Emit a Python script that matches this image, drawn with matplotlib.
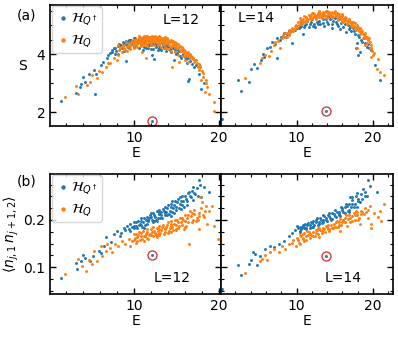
import numpy as np
import matplotlib
matplotlib.use("Agg")
import matplotlib.pyplot as plt
from matplotlib.ticker import MultipleLocator

# entanglement entropy S vs E, L=12
s12_qdag = [(1.5, 2.37), (3.26, 2.67), (3.65, 2.87), (3.85, 2.98), (4.1, 3.22), (4.3, 3.05), (5.5, 2.63),
            (4.8, 3.33), (5.3, 3.45), (5.6, 3.3), (6.1, 3.62), (6.4, 3.73), (6.9, 3.85), (7.0, 3.97),
            (7.5, 4.08), (7.85, 4.2), (7.85, 3.99), (8.4, 4.31), (8.2, 4.0), (9.0, 4.37), (9.1, 3.76),
            (9.6, 4.48), (9.97, 4.54), (8.6, 4.22), (8.8, 4.12), (9.2, 4.3), (9.4, 4.2), (9.5, 4.4),
            (9.8, 4.35), (10.0, 4.25), (10.2, 4.45), (10.3, 4.32), (10.5, 4.5), (10.6, 4.2), (10.8, 4.4),
            (10.9, 4.3), (11.0, 4.55), (11.1, 4.15), (11.2, 4.25), (11.3, 4.45), (11.5, 4.35), (11.6, 4.5),
            (11.7, 4.22), (11.9, 4.4), (12.0, 4.3), (12.1, 3.97), (12.2, 4.48), (12.3, 4.18), (12.4, 3.83),
            (12.5, 4.35), (12.6, 4.25), (12.8, 4.42), (12.9, 4.2), (13.0, 4.3), (13.15, 4.14), (13.3, 4.38),
            (13.5, 4.2), (13.6, 4.3), (13.8, 4.1), (14.0, 4.25), (14.3, 4.08), (14.4, 4.2), (14.7, 3.79),
            (14.8, 4.15), (15.0, 4.0), (15.1, 4.03), (15.3, 4.1), (15.5, 3.85), (15.7, 3.95), (16.0, 3.9),
            (16.2, 3.7), (16.4, 3.07), (16.5, 3.14), (16.6, 3.75), (17.0, 3.55), (17.3, 3.62), (17.65, 3.33),
            (17.9, 2.78), (18.2, 3.0), (12.1, 1.69)]
s12_qdag_band = [(7.2, 4.05), (7.4, 4.15), (7.7, 4.22), (7.9, 4.1), (8.1, 4.28), (8.3, 4.35), (8.5, 4.3),
                 (8.7, 4.4), (8.9, 4.35), (9.1, 4.45), (9.3, 4.42), (9.45, 4.5), (9.7, 4.5), (9.85, 4.45),
                 (10.1, 4.55), (10.4, 4.4), (10.7, 4.48), (11.2, 4.38), (11.4, 4.2), (11.8, 4.3), (12.0, 4.18),
                 (12.3, 4.35), (12.7, 4.3), (12.8, 4.15), (13.1, 4.22), (13.4, 4.28), (13.7, 4.22), (13.9, 4.3),
                 (14.2, 4.15), (14.6, 4.2), (14.9, 4.05), (15.2, 4.15), (15.4, 3.95), (15.8, 4.0), (16.1, 3.82),
                 (16.4, 3.85), (16.8, 3.65)]
s12_q = [(1.9, 2.52), (3.26, 2.9), (3.5, 2.64), (4.5, 2.93), (4.9, 3.04), (5.1, 3.28), (5.7, 3.16),
         (5.9, 3.4), (6.3, 3.39), (6.7, 3.56), (7.0, 3.7), (7.25, 3.68), (7.65, 3.85), (8.0, 3.8),
         (8.2, 3.97), (8.6, 4.08), (9.2, 4.25), (8.4, 4.2), (8.8, 4.3), (9.0, 4.15), (9.4, 4.38),
         (9.6, 4.28), (9.8, 4.45), (10.0, 4.38), (10.2, 4.52), (10.3, 4.3), (10.5, 4.45), (10.7, 4.58),
         (10.8, 4.35), (11.0, 4.5), (11.0, 4.08), (11.2, 4.63), (11.3, 4.42), (11.4, 3.87), (11.5, 4.55),
         (11.6, 4.35), (11.8, 4.6), (11.9, 4.48), (12.0, 4.4), (12.2, 4.58), (12.3, 4.5), (12.5, 4.62),
         (12.6, 4.4), (12.8, 4.6), (12.9, 4.5), (13.0, 4.35), (13.2, 4.55), (13.4, 4.45), (13.5, 4.3),
         (13.7, 4.52), (13.9, 4.48), (14.0, 4.35), (14.2, 4.45), (14.3, 4.25), (14.5, 4.4), (14.5, 3.56),
         (14.7, 4.3), (14.9, 4.38), (15.0, 4.2), (15.1, 4.31), (15.3, 3.73), (15.3, 4.25), (15.5, 4.1),
         (15.7, 4.2), (15.9, 4.14), (16.0, 3.95), (16.2, 4.05), (16.5, 3.97), (16.6, 3.85), (16.8, 3.9),
         (17.1, 3.73), (17.3, 3.8), (17.5, 3.56), (17.65, 3.45), (17.8, 3.6), (17.85, 3.1), (18.05, 3.22),
         (18.3, 2.68), (18.6, 2.87), (18.8, 2.61), (19.4, 2.36), (19.4, 2.05)]
s12_q_band = [(8.1, 4.3), (8.3, 4.15), (8.5, 4.25), (8.7, 4.33), (8.9, 4.22), (9.1, 4.4), (9.3, 4.28),
              (9.5, 4.35), (9.7, 4.42), (9.9, 4.32), (10.1, 4.48), (10.15, 4.4), (10.35, 4.5), (10.45, 4.38),
              (10.6, 4.55), (10.65, 4.45), (10.85, 4.52), (10.9, 4.42), (11.05, 4.6), (11.1, 4.4), (11.25, 4.52),
              (11.35, 4.58), (11.45, 4.46), (11.55, 4.62), (11.65, 4.5), (11.75, 4.4), (11.85, 4.55), (11.95, 4.6),
              (12.05, 4.5), (12.1, 4.42), (12.25, 4.55), (12.35, 4.6), (12.4, 4.45), (12.55, 4.52), (12.65, 4.58),
              (12.7, 4.45), (12.85, 4.53), (12.95, 4.42), (13.05, 4.58), (13.1, 4.48), (13.25, 4.4), (13.3, 4.52),
              (13.45, 4.55), (13.55, 4.42), (13.65, 4.48), (13.75, 4.38), (13.85, 4.55), (13.95, 4.4),
              (14.05, 4.48), (14.15, 4.32), (14.25, 4.42), (14.35, 4.5), (14.45, 4.33), (14.6, 4.45),
              (14.65, 4.35), (14.8, 4.4), (14.85, 4.25), (15.0, 4.33), (15.15, 4.22), (15.2, 4.35), (15.4, 4.28),
              (15.45, 4.15), (15.6, 4.25), (15.65, 4.1), (15.8, 4.18), (15.85, 4.05), (16.05, 4.12), (16.1, 3.98),
              (16.3, 4.08), (16.35, 3.92), (16.55, 4.02), (16.7, 3.95), (16.9, 3.82), (16.95, 3.88), (17.2, 3.78),
              (17.4, 3.7), (17.6, 3.65), (17.7, 3.55), (17.95, 3.4), (18.1, 3.35), (18.4, 3.1), (18.5, 3.0),
              (9.2, 4.12), (9.6, 4.18), (10.0, 4.22), (10.4, 4.25), (10.8, 4.28), (11.2, 4.3), (11.6, 4.28),
              (12.0, 4.32), (12.4, 4.3), (12.8, 4.32), (13.2, 4.25), (13.6, 4.22), (14.0, 4.18), (14.4, 4.12),
              (14.8, 4.08), (15.2, 3.98), (15.6, 3.92), (16.0, 3.8), (16.4, 3.72), (10.6, 4.61), (11.4, 4.63),
              (12.1, 4.63), (12.9, 4.62), (13.6, 4.58)]

# S vs E, L=14
s14_qdag = [(0.2, 1.76), (2.28, 3.1), (2.72, 2.72), (3.73, 3.05), (4.08, 3.47), (4.39, 3.66), (4.82, 3.53),
            (5.3, 3.8), (5.6, 4.02), (5.8, 3.9), (6.14, 4.2), (6.57, 4.25), (6.8, 4.42), (7.2, 4.35),
            (7.46, 4.54), (7.46, 3.87), (7.8, 4.5), (8.33, 4.71), (8.6, 4.6), (9.0, 4.78), (9.43, 4.37),
            (9.6, 4.85), (10.1, 4.89), (10.4, 4.95), (10.75, 5.11), (10.8, 4.69), (11.1, 5.0), (11.4, 5.15),
            (11.7, 5.05), (12.0, 5.2), (12.2, 4.98), (12.4, 4.94), (12.6, 5.25), (12.8, 5.02), (13.0, 5.15),
            (13.3, 5.3), (13.5, 5.08), (13.8, 5.2), (14.1, 5.02), (14.3, 5.3), (14.6, 4.89), (14.8, 5.15),
            (15.0, 5.25), (15.3, 5.05), (15.5, 5.2), (15.7, 4.86), (16.0, 5.1), (16.2, 5.2), (16.5, 4.77),
            (16.7, 5.0), (17.0, 4.95), (17.2, 5.1), (17.5, 4.8), (17.8, 4.2), (17.85, 4.37), (18.0, 4.65),
            (18.1, 3.97), (18.3, 4.08), (18.5, 4.5), (18.8, 4.55), (19.2, 4.25), (19.4, 4.35), (19.7, 4.15),
            (20.3, 3.62), (20.9, 3.1), (13.8, 2.03)]
s14_qdag_band = [(8.0, 4.6), (8.8, 4.7), (9.3, 4.8), (9.8, 4.82), (10.3, 4.9), (10.6, 4.98), (11.0, 4.95),
                 (11.3, 5.05), (11.6, 4.92), (11.9, 5.1), (12.3, 5.05), (12.7, 5.12), (13.1, 5.05), (13.4, 5.2),
                 (13.6, 4.98), (14.0, 5.12), (14.4, 5.2), (14.7, 5.05), (15.1, 5.12), (15.4, 4.98), (15.8, 5.08),
                 (16.1, 4.95), (16.4, 5.05), (16.8, 4.88), (17.1, 4.8), (17.4, 4.9), (17.7, 4.7), (18.2, 4.6),
                 (18.6, 4.4), (19.0, 4.38), (19.5, 4.2)]
s14_q = [(3.29, 3.18), (5.17, 3.68), (5.49, 3.85), (5.92, 3.97), (6.36, 3.94), (6.7, 4.1), (7.0, 4.31),
         (7.24, 4.42), (7.6, 4.45), (7.9, 4.2), (8.1, 4.54), (8.4, 4.6), (8.8, 4.71), (9.0, 4.65),
         (9.2, 4.83), (9.5, 4.8), (9.87, 5.0), (10.1, 4.92), (10.4, 5.23), (10.5, 5.14), (10.8, 5.1),
         (11.0, 5.3), (11.2, 5.25), (11.4, 5.15), (11.6, 5.35), (11.8, 5.28), (12.0, 5.2), (12.15, 5.4),
         (12.4, 5.32), (12.6, 5.25), (12.8, 5.42), (13.0, 5.35), (13.2, 5.28), (13.4, 5.45), (13.6, 5.38),
         (13.9, 5.48), (14.0, 5.3), (14.2, 5.42), (14.4, 5.35), (14.6, 5.45), (14.8, 5.3), (15.0, 5.4),
         (15.2, 5.33), (15.4, 5.25), (15.6, 5.38), (15.8, 5.22), (16.0, 5.3), (16.2, 5.15), (16.5, 5.23),
         (16.7, 5.1), (16.9, 5.18), (17.1, 5.0), (17.3, 5.1), (17.6, 5.06), (17.85, 4.2), (17.8, 4.9),
         (18.0, 4.95), (18.2, 4.8), (18.5, 4.83), (18.7, 4.7), (18.9, 4.33), (19.0, 4.62), (19.2, 4.6),
         (19.4, 4.5), (19.6, 4.42), (19.8, 4.2), (19.8, 3.91), (20.0, 3.97), (20.5, 3.5), (20.6, 3.83),
         (20.9, 3.39), (21.4, 3.28)]
s14_q_band = [(8.2, 4.65), (8.5, 4.72), (8.7, 4.6), (8.95, 4.82), (9.15, 4.75), (9.35, 4.9), (9.6, 4.85),
              (9.75, 4.98), (9.95, 4.92), (10.2, 5.1), (10.3, 5.0), (10.6, 5.18), (10.7, 5.05), (10.9, 5.22),
              (11.05, 5.15), (11.3, 5.28), (11.5, 5.2), (11.7, 5.3), (11.9, 5.35), (12.1, 5.28), (12.3, 5.38),
              (12.5, 5.3), (12.7, 5.35), (12.9, 5.28), (13.1, 5.42), (13.3, 5.35), (13.5, 5.4), (13.7, 5.3),
              (13.8, 5.45), (14.1, 5.38), (14.3, 5.45), (14.5, 5.3), (14.7, 5.4), (14.9, 5.42), (15.1, 5.3),
              (15.3, 5.4), (15.5, 5.32), (15.7, 5.28), (15.9, 5.35), (16.1, 5.22), (16.3, 5.28), (16.4, 5.18),
              (16.6, 5.15), (16.8, 5.22), (17.0, 5.1), (17.2, 5.05), (17.4, 5.12), (17.5, 4.98), (17.7, 4.95),
              (17.9, 5.0), (18.1, 4.88), (18.3, 4.9), (18.4, 4.75), (18.6, 4.78), (18.8, 4.65), (18.95, 4.72),
              (19.1, 4.55), (19.3, 4.48), (19.5, 4.55), (19.7, 4.3), (19.9, 4.1), (20.1, 4.05),
              (9.0, 4.7), (9.8, 4.88), (10.5, 5.02), (11.2, 5.12), (11.9, 5.2), (12.6, 5.22), (13.3, 5.25),
              (14.0, 5.25), (14.7, 5.25), (15.4, 5.18), (16.0, 5.12), (16.6, 5.05), (17.2, 4.95), (17.8, 4.82),
              (18.3, 4.7), (18.7, 4.55), (19.2, 4.38), (19.6, 4.22), (12.0, 5.42), (13.0, 5.47), (14.0, 5.5),
              (15.0, 5.47), (16.0, 5.38)]

# <n_{j,1} n_{j+1,2}> vs E, L=12
n12_qdag = [(1.5, 0.0766), (3.26, 0.108), (3.3, 0.096), (3.8, 0.112), (4.1, 0.1255), (4.24, 0.12),
            (4.9, 0.112), (5.2, 0.124), (5.9, 0.135), (6.1, 0.129), (6.5, 0.145), (6.7, 0.163), (7.3, 0.153),
            (7.65, 0.170), (8.05, 0.177), (8.4, 0.167), (8.8, 0.184), (9.4, 0.181), (9.6, 0.191),
            (9.97, 0.188), (9.6, 0.177), (10.2, 0.195), (10.4, 0.183), (10.6, 0.19), (10.8, 0.198),
            (11.0, 0.186), (11.2, 0.184), (11.4, 0.2), (11.6, 0.192), (11.8, 0.205), (12.0, 0.206),
            (12.2, 0.195), (12.4, 0.21), (12.6, 0.2), (12.75, 0.198), (12.9, 0.212), (13.15, 0.216),
            (13.3, 0.205), (13.5, 0.22), (13.7, 0.21), (13.9, 0.225), (14.1, 0.212), (14.3, 0.227),
            (14.3, 0.209), (14.5, 0.218), (14.7, 0.232), (14.9, 0.222), (15.1, 0.238), (15.3, 0.226),
            (15.5, 0.241), (15.7, 0.232), (15.9, 0.227), (16.0, 0.252), (16.2, 0.24), (16.5, 0.259),
            (16.7, 0.248), (16.9, 0.27), (17.2, 0.255), (17.65, 0.285), (12.1, 0.1255)]
n12_qdag_band = [(8.5, 0.172), (9.0, 0.178), (9.2, 0.188), (9.8, 0.185), (10.0, 0.196), (10.3, 0.188),
                 (10.5, 0.198), (10.7, 0.192), (10.9, 0.204), (11.1, 0.196), (11.3, 0.19), (11.5, 0.206),
                 (11.7, 0.198), (11.9, 0.21), (12.1, 0.2), (12.3, 0.214), (12.5, 0.206), (12.7, 0.22),
                 (12.8, 0.205), (13.0, 0.218), (13.2, 0.21), (13.4, 0.224), (13.6, 0.215), (13.8, 0.218),
                 (14.0, 0.232), (14.2, 0.22), (14.4, 0.235), (14.6, 0.225), (14.8, 0.24), (15.0, 0.228),
                 (15.2, 0.245), (15.4, 0.234), (15.6, 0.25), (15.8, 0.24), (16.1, 0.245), (16.3, 0.258),
                 (16.6, 0.25), (16.8, 0.262), (17.0, 0.258), (17.4, 0.268), (17.8, 0.275), (17.9, 0.248),
                 (18.2, 0.27), (18.8, 0.26),
                 (10.0, 0.182), (10.9, 0.19), (11.7, 0.2), (12.4, 0.198), (13.1, 0.205), (13.9, 0.21),
                 (14.7, 0.215), (15.5, 0.224), (16.2, 0.232), (16.9, 0.242), (17.5, 0.25), (11.2, 0.205),
                 (12.0, 0.215), (12.9, 0.222), (13.7, 0.228), (14.5, 0.24), (15.4, 0.248)]
n12_q = [(1.9, 0.085), (3.5, 0.117), (3.9, 0.103), (4.4, 0.092), (4.7, 0.115), (5.1, 0.106), (5.3, 0.135),
         (5.7, 0.113), (6.1, 0.145), (6.3, 0.124), (6.7, 0.135), (6.9, 0.149), (7.25, 0.140), (7.46, 0.131),
         (7.85, 0.149), (8.2, 0.145), (8.6, 0.156), (9.0, 0.149), (9.4, 0.160), (9.8, 0.156), (9.97, 0.170),
         (9.6, 0.145), (10.1, 0.162), (10.3, 0.152), (10.5, 0.168), (10.7, 0.158), (10.9, 0.172),
         (11.2, 0.156), (11.3, 0.165), (11.5, 0.175), (11.7, 0.16), (11.9, 0.17), (12.0, 0.181),
         (12.2, 0.165), (12.4, 0.176), (12.6, 0.168), (12.75, 0.163), (12.9, 0.18), (13.1, 0.172),
         (13.3, 0.185), (13.5, 0.17), (13.7, 0.18), (13.9, 0.19), (14.1, 0.176), (14.3, 0.198),
         (14.3, 0.174), (14.5, 0.185), (14.7, 0.192), (14.9, 0.18), (15.1, 0.2), (15.3, 0.188),
         (15.5, 0.195), (15.7, 0.205), (15.9, 0.181), (16.0, 0.198), (16.3, 0.21), (16.5, 0.149),
         (16.6, 0.22), (16.8, 0.195), (17.0, 0.212), (17.3, 0.198), (17.65, 0.209), (17.65, 0.181),
         (17.8, 0.248), (18.0, 0.238), (18.2, 0.206), (18.6, 0.191), (19.2, 0.23), (19.4, 0.188),
         (19.9, 0.16)]
n12_q_band = [(10.0, 0.158), (10.2, 0.17), (10.4, 0.163), (10.6, 0.174), (10.8, 0.166), (11.0, 0.16),
              (11.1, 0.177), (11.4, 0.17), (11.6, 0.18), (11.8, 0.168), (12.1, 0.175), (12.3, 0.185),
              (12.5, 0.172), (12.7, 0.182), (12.85, 0.17), (13.0, 0.188), (13.2, 0.178), (13.4, 0.19),
              (13.6, 0.175), (13.8, 0.185), (14.0, 0.195), (14.2, 0.182), (14.4, 0.192), (14.6, 0.178),
              (14.8, 0.2), (15.0, 0.19), (15.2, 0.182), (15.4, 0.205), (15.6, 0.19), (15.8, 0.2),
              (16.1, 0.188), (16.2, 0.205), (16.4, 0.195), (16.7, 0.208), (16.9, 0.2), (17.1, 0.222),
              (17.4, 0.205), (17.6, 0.215), (17.9, 0.225), (18.1, 0.21), (18.4, 0.23), (18.8, 0.22),
              (10.4, 0.155), (11.2, 0.165), (12.0, 0.168), (12.8, 0.176), (13.6, 0.184), (14.4, 0.188),
              (15.2, 0.195), (16.0, 0.21), (16.8, 0.215), (17.5, 0.2), (18.3, 0.22), (11.5, 0.162),
              (13.0, 0.168), (14.0, 0.172), (15.0, 0.178), (16.0, 0.185)]

# <n_{j,1} n_{j+1,2}> vs E, L=14
n14_qdag = [(0.2, 0.053), (2.32, 0.105), (2.72, 0.083), (3.73, 0.106), (4.08, 0.115), (4.3, 0.131),
            (4.5, 0.128), (4.82, 0.104), (5.26, 0.124), (5.92, 0.138), (6.58, 0.145), (7.0, 0.142),
            (7.67, 0.149), (8.33, 0.156), (8.99, 0.167), (9.43, 0.172), (10.0, 0.188), (10.5, 0.177),
            (10.96, 0.184), (10.4, 0.174), (10.7, 0.185), (11.2, 0.18), (11.4, 0.19), (11.7, 0.184),
            (12.0, 0.194), (12.2, 0.186), (12.5, 0.196), (12.8, 0.19), (13.0, 0.191), (13.2, 0.2),
            (13.5, 0.195), (13.8, 0.205), (14.0, 0.198), (14.3, 0.208), (14.6, 0.202), (14.9, 0.212),
            (15.2, 0.206), (15.5, 0.218), (15.7, 0.209), (16.0, 0.222), (16.3, 0.215), (16.6, 0.23),
            (16.9, 0.222), (17.0, 0.248), (17.2, 0.235), (17.5, 0.228), (17.85, 0.227), (18.0, 0.245),
            (18.3, 0.238), (18.7, 0.266), (18.9, 0.25), (19.2, 0.252), (19.4, 0.284), (19.6, 0.273),
            (20.5, 0.259), (13.8, 0.1228)]
n14_qdag_band = [(9.8, 0.178), (10.2, 0.182), (10.6, 0.18), (10.8, 0.19), (11.0, 0.186), (11.3, 0.184),
                 (11.5, 0.194), (11.8, 0.19), (12.1, 0.198), (12.3, 0.19), (12.6, 0.2), (12.9, 0.196),
                 (13.1, 0.205), (13.4, 0.2), (13.6, 0.208), (13.9, 0.2), (14.1, 0.21), (14.4, 0.204),
                 (14.7, 0.215), (15.0, 0.208), (15.3, 0.218), (15.6, 0.212), (15.9, 0.225), (16.1, 0.216),
                 (16.4, 0.228), (16.7, 0.22), (16.9, 0.235), (17.1, 0.228), (17.3, 0.242), (17.6, 0.235),
                 (17.8, 0.25), (18.1, 0.24), (18.4, 0.255), (18.6, 0.245), (19.0, 0.26),
                 (10.4, 0.185), (11.1, 0.192), (11.9, 0.196), (12.7, 0.205), (13.5, 0.21), (14.2, 0.215),
                 (15.0, 0.222), (15.8, 0.228), (16.5, 0.235), (17.2, 0.248), (17.9, 0.258), (12.0, 0.186),
                 (13.3, 0.193), (14.5, 0.2), (15.6, 0.21), (16.8, 0.218)]
n14_q = [(3.29, 0.0866), (5.17, 0.112), (5.48, 0.117), (5.92, 0.126), (6.14, 0.115), (6.58, 0.131),
         (7.0, 0.138), (7.67, 0.131), (8.1, 0.145), (8.55, 0.138), (8.99, 0.149), (9.43, 0.152),
         (9.87, 0.145), (10.3, 0.152), (10.96, 0.156), (10.4, 0.149), (10.6, 0.165), (10.9, 0.17),
         (11.2, 0.158), (11.5, 0.168), (11.8, 0.162), (12.1, 0.175), (12.4, 0.166), (12.7, 0.178),
         (13.0, 0.163), (13.0, 0.184), (13.3, 0.172), (13.6, 0.18), (13.9, 0.188), (14.2, 0.176),
         (14.5, 0.19), (14.8, 0.182), (15.1, 0.196), (15.4, 0.185), (15.7, 0.202), (15.7, 0.177),
         (16.0, 0.195), (16.3, 0.205), (16.6, 0.188), (16.9, 0.21), (17.2, 0.198), (17.5, 0.215),
         (17.85, 0.216), (18.0, 0.2), (18.3, 0.191), (18.6, 0.218), (19.0, 0.225), (19.3, 0.205),
         (19.6, 0.23), (19.8, 0.191), (19.8, 0.184), (20.6, 0.206), (20.9, 0.22), (21.1, 0.198),
         (21.4, 0.234)]
n14_q_band = [(9.5, 0.158), (10.0, 0.162), (10.2, 0.158), (10.5, 0.168), (10.8, 0.162), (11.0, 0.172),
              (11.3, 0.165), (11.6, 0.175), (11.9, 0.168), (12.2, 0.165), (12.5, 0.178), (12.8, 0.17),
              (13.1, 0.178), (13.4, 0.182), (13.7, 0.174), (14.0, 0.185), (14.3, 0.18), (14.6, 0.184),
              (14.9, 0.192), (15.2, 0.185), (15.5, 0.195), (15.8, 0.19), (16.1, 0.2), (16.4, 0.195),
              (16.7, 0.202), (17.0, 0.196), (17.3, 0.208), (17.6, 0.2), (17.9, 0.21), (18.2, 0.205),
              (18.5, 0.22), (18.8, 0.212), (19.1, 0.218), (19.4, 0.222), (20.2, 0.215),
              (10.9, 0.16), (11.7, 0.17), (12.5, 0.172), (13.3, 0.176), (14.1, 0.18), (14.9, 0.186),
              (15.6, 0.19), (16.3, 0.196), (17.0, 0.204), (17.7, 0.21), (18.4, 0.212), (11.4, 0.177),
              (12.8, 0.182), (14.1, 0.19), (15.3, 0.198), (16.5, 0.21), (17.8, 0.22)]

# the special (scar) state, circled in red
scar_S = [(12.1, 1.69), (13.8, 2.03)]
scar_n = [(12.1, 0.1255), (13.8, 0.1228)]

lab_qdag = r'$\mathcal{H}_{Q^\dagger}$'
lab_q = r'$\mathcal{H}_Q$'

fig = plt.figure(figsize=(3.98, 3.37), dpi=100)
ax_a1 = fig.add_axes([0.126, 0.626, 0.429, 0.359])
ax_a2 = fig.add_axes([0.555, 0.626, 0.432, 0.359])
ax_b1 = fig.add_axes([0.126, 0.128, 0.429, 0.356])
ax_b2 = fig.add_axes([0.555, 0.128, 0.432, 0.356])

panels = [(ax_a1, s12_qdag + s12_qdag_band, s12_q + s12_q_band, scar_S[0]),
          (ax_a2, s14_qdag + s14_qdag_band, s14_q + s14_q_band, scar_S[1]),
          (ax_b1, n12_qdag + n12_qdag_band, n12_q + n12_q_band, scar_n[0]),
          (ax_b2, n14_qdag + n14_qdag_band, n14_q + n14_q_band, scar_n[1])]

for ax, d1, d2, sc in panels:
    e1, v1 = zip(*d1)
    e2, v2 = zip(*d2)
    ax.scatter(e1, v1, s=4.5, color='tab:blue', linewidths=0, label=lab_qdag)
    ax.scatter(e2, v2, s=4.5, color='tab:orange', linewidths=0, label=lab_q)
    ax.plot(sc[0], sc[1], 'o', mfc='none', mec='tab:red', ms=6.5, mew=0.9)
    ax.tick_params(which='both', direction='in', top=True, right=True, labelsize=10)
    ax.tick_params(which='major', length=4, width=1)
    ax.tick_params(which='minor', length=2, width=0.8)
    ax.xaxis.set_major_locator(MultipleLocator(10))
    ax.xaxis.set_minor_locator(MultipleLocator(2))
    ax.set_xlabel('E', fontsize=10, labelpad=1)
    for sp in ax.spines.values():
        sp.set_linewidth(1.2)

for ax in (ax_a1, ax_b1):
    ax.set_xlim(0.2, 20.2)
for ax in (ax_a2, ax_b2):
    ax.set_xlim(0.1, 22.6)
    ax.tick_params(labelleft=False)

for ax in (ax_a1, ax_a2):
    ax.set_ylim(1.52, 5.69)
    ax.yaxis.set_major_locator(MultipleLocator(2))
    ax.yaxis.set_minor_locator(MultipleLocator(0.5))
for ax in (ax_b1, ax_b2):
    ax.set_ylim(0.043, 0.298)
    ax.yaxis.set_major_locator(MultipleLocator(0.1))
    ax.yaxis.set_minor_locator(MultipleLocator(0.025))

ax_a1.set_ylabel('S', fontsize=10, rotation=0, labelpad=10, va='center')
ax_b1.set_ylabel(r'$\langle n_{j,1}\, n_{j+1,2}\rangle$', fontsize=10, labelpad=2)

for ax in (ax_a1, ax_b1):
    ax.legend(loc='upper left', fontsize=10, handletextpad=0.1, borderpad=0.3,
              borderaxespad=0.1, markerscale=1.5, labelspacing=0.4, handlelength=1.0,
              framealpha=0.8)

ax_a1.text(0.876, 0.88, 'L=12', transform=ax_a1.transAxes, ha='right', va='center', fontsize=10)
ax_a2.text(0.1, 0.89, 'L=14', transform=ax_a2.transAxes, ha='left', va='center', fontsize=10)
ax_b1.text(0.82, 0.13, 'L=12', transform=ax_b1.transAxes, ha='right', va='center', fontsize=10)
ax_b2.text(0.82, 0.13, 'L=14', transform=ax_b2.transAxes, ha='right', va='center', fontsize=10)

fig.text(0.043, 0.955, '(a)', fontsize=10, va='center')
fig.text(0.043, 0.46, '(b)', fontsize=10, va='center')

fig.savefig('out.png', dpi=100)
